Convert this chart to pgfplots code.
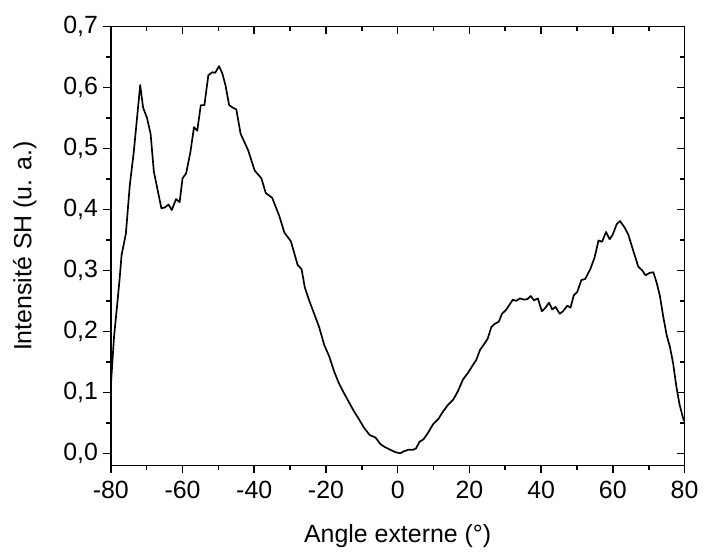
\documentclass[border=0pt]{standalone}
\usepackage{pgfplots}
\pgfplotsset{compat=1.18}
\usepackage{fontspec}
\setmainfont{Liberation Sans}

\pgfplotstableread{
x y
-80.0 0.110
-79.1 0.191
-78.2 0.245
-77.5 0.289
-77.0 0.325
-75.8 0.360
-74.7 0.440
-73.6 0.494
-71.8 0.604
-71.0 0.567
-69.9 0.550
-68.9 0.524
-68.0 0.462
-65.9 0.402
-65.0 0.403
-63.9 0.408
-63.0 0.399
-61.8 0.417
-60.8 0.412
-60.0 0.451
-59.0 0.459
-57.8 0.494
-56.8 0.535
-55.9 0.529
-54.9 0.571
-53.9 0.571
-52.8 0.620
-51.7 0.625
-50.9 0.624
-49.8 0.635
-48.9 0.623
-48.0 0.603
-47.0 0.571
-46.0 0.567
-45.0 0.564
-43.8 0.524
-41.7 0.497
-39.9 0.464
-38.0 0.451
-36.8 0.427
-35.0 0.419
-33.0 0.389
-31.6 0.362
-29.8 0.348
-27.9 0.309
-26.8 0.302
-25.9 0.272
-24.7 0.251
-23.3 0.229
-21.9 0.207
-20.5 0.178
-19.1 0.159
-17.7 0.134
-16.4 0.115
-15.0 0.099
-13.6 0.084
-12.2 0.069
-10.8 0.056
-9.4 0.042
-7.8 0.030
-6.2 0.026
-4.8 0.015
-3.5 0.010
-2.1 0.006
-0.7 0.002
0.7 0.000
1.6 0.003
3.0 0.006
4.4 0.006
5.1 0.008
6.1 0.019
7.2 0.023
8.5 0.034
9.9 0.048
11.3 0.056
12.7 0.069
14.1 0.080
15.5 0.088
16.8 0.102
18.2 0.121
19.6 0.132
21.0 0.145
21.9 0.153
23.0 0.170
24.2 0.180
25.1 0.188
26.1 0.207
27.0 0.212
28.2 0.216
29.1 0.229
30.2 0.235
32.1 0.252
33.0 0.250
34.1 0.254
35.3 0.252
36.2 0.253
37.1 0.258
38.0 0.251
39.1 0.254
40.2 0.233
41.1 0.238
42.2 0.247
43.1 0.236
44.0 0.240
45.2 0.229
46.1 0.233
47.3 0.242
48.2 0.239
49.1 0.259
50.1 0.265
51.2 0.284
52.3 0.286
53.7 0.302
54.9 0.321
56.0 0.349
57.0 0.347
58.1 0.363
59.1 0.351
59.9 0.358
61.1 0.376
62.0 0.381
63.2 0.371
64.3 0.359
65.7 0.332
67.1 0.306
68.2 0.300
69.1 0.292
70.3 0.296
71.3 0.297
72.2 0.280
73.1 0.259
74.0 0.226
75.0 0.194
75.9 0.175
76.8 0.148
77.7 0.110
78.6 0.080
79.8 0.053
}\sh

\pgfplotsset{
  base/.style={
    width=289.2bp, height=221.3bp, scale only axis,
    xmin=-80, xmax=80, ymin=-0.02, ymax=0.7,
    xtick={-80,-60,...,80}, ytick={0,0.1,...,0.7},
    minor x tick num=1, minor y tick num=1,
    major tick length=3.75bp, minor tick length=2.25bp,
    axis line style={line width=0.8bp},
    every tick/.style={black, line width=0.8bp},
  }
}

\begin{document}
\begin{tikzpicture}
\begin{axis}[base, name=ax,
    tick align=outside, xtick pos=left, ytick pos=left,
    xticklabels={-80,-60,-40,-20,0,20,40,60,80},
    yticklabels={{0,0},{0,1},{0,2},{0,3},{0,4},{0,5},{0,6},{0,7}},
    ticklabel style={font=\fontsize{12.6}{15}\selectfont},
    xticklabel style={yshift=-0.5bp},
    yticklabel style={xshift=0.8bp},
    xlabel={Angle externe (°)},
    ylabel={Intensité SH (u. a.)},
    label style={font=\fontsize{12.6}{15}\selectfont},
    xlabel style={at={(axis description cs:0.5,0)}, anchor=base, yshift=-38.7bp},
    ylabel style={at={(axis description cs:0,0.5)}, anchor=base, yshift=40bp},
]
\addplot[black, line width=0.85bp, line join=round] table[x=x, y=y] {\sh};
\end{axis}
\begin{axis}[base,
    tick align=inside, xtick pos=right, ytick pos=right,
    xticklabels={}, yticklabels={},
]
\end{axis}
\path ([shift={(-55.85bp,-41.35bp)}]ax.south west) rectangle ([shift={(7.5bp,13.35bp)}]ax.north east);
\end{tikzpicture}
\end{document}
